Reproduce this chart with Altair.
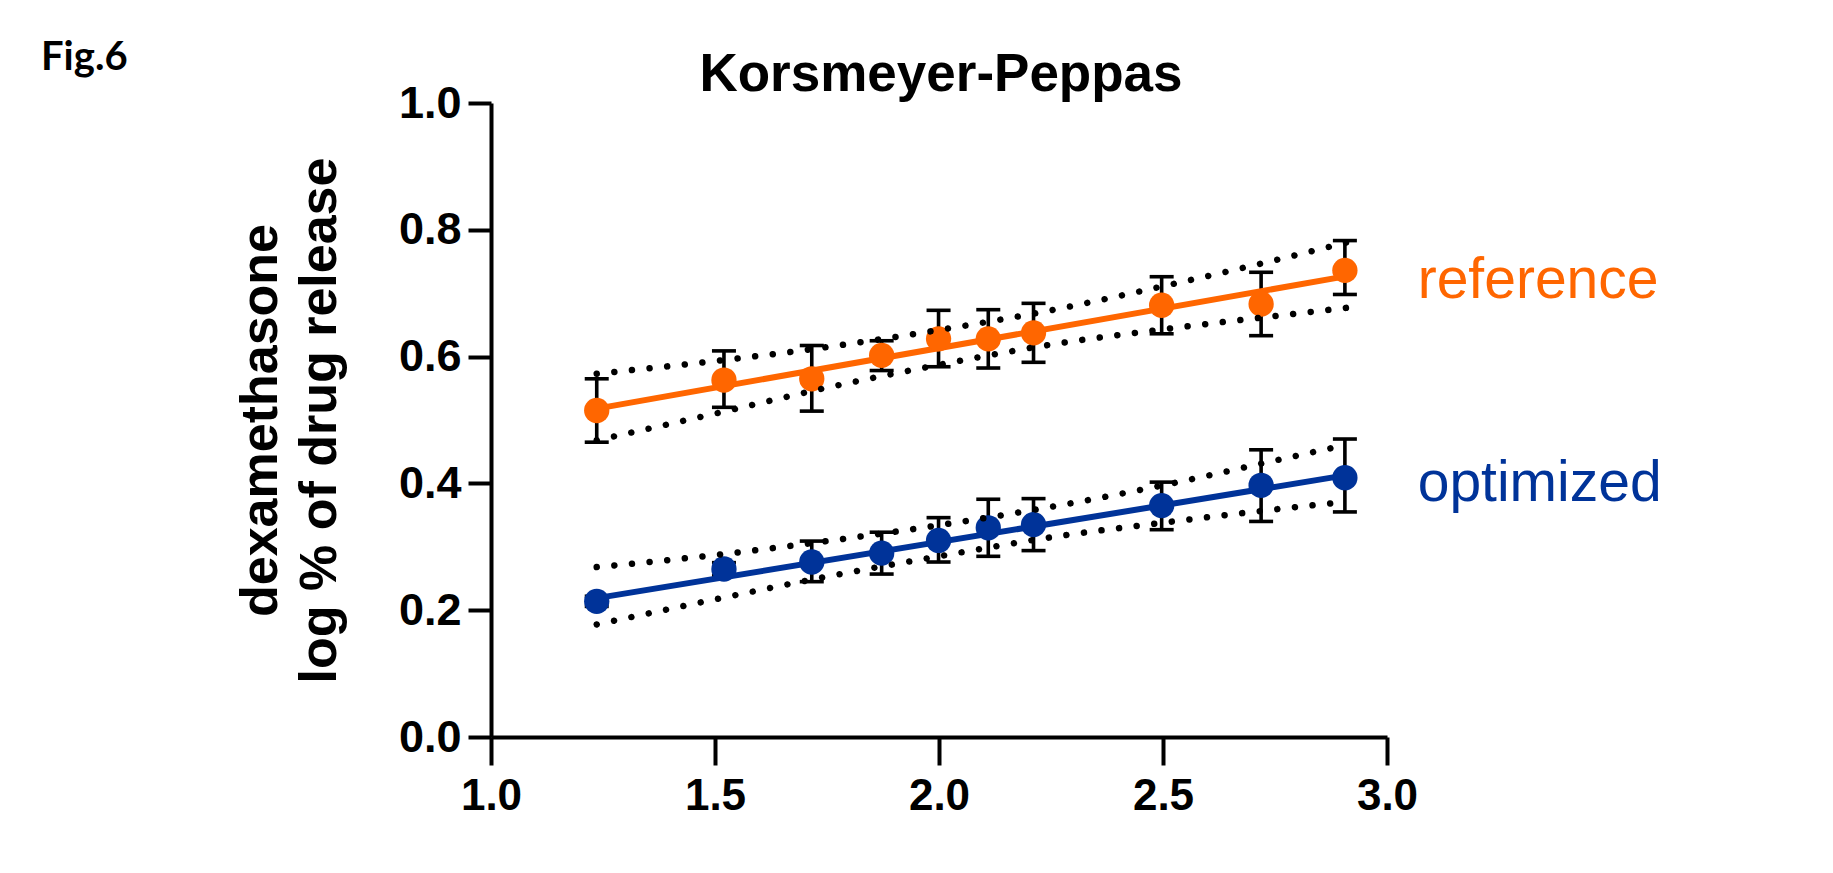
import altair as alt
import pandas as pd

# ---- data ----
series_names = ["reference", "optimized"]
series_colors = ["#FF6600", "#003399"]

x_vals = [1.236, 1.520, 1.716, 1.872, 1.999, 2.110, 2.211, 2.497, 2.719, 2.906]

ref_y  = [0.515, 0.563, 0.565, 0.602, 0.628, 0.628, 0.6375, 0.681, 0.683, 0.736]
ref_hi = [0.565, 0.609, 0.6175, 0.625, 0.673, 0.674, 0.684, 0.726, 0.733, 0.783]
ref_lo = [0.465, 0.520, 0.514, 0.578, 0.584, 0.582, 0.591, 0.636, 0.633, 0.698]

opt_y  = [0.214, 0.265, 0.276, 0.290, 0.310, 0.330, 0.335, 0.365, 0.397, 0.409]
opt_hi = [0.222, 0.275, 0.309, 0.323, 0.346, 0.375, 0.376, 0.402, 0.453, 0.470]
opt_lo = [0.206, 0.255, 0.245, 0.257, 0.276, 0.285, 0.294, 0.327, 0.340, 0.355]

fit_x   = [1.236, 2.91]
ref_fit = [0.518, 0.727]
opt_fit = [0.219, 0.413]

band_x    = [1.236, 1.5, 1.75, 2.0, 2.25, 2.5, 2.75, 2.91]
ref_upper = [0.573, 0.593, 0.615, 0.642, 0.673, 0.711, 0.752, 0.780]
ref_lower = [0.468, 0.510, 0.551, 0.587, 0.619, 0.643, 0.664, 0.677]
opt_upper = [0.268, 0.287, 0.309, 0.334, 0.363, 0.397, 0.436, 0.461]
opt_lower = [0.1775, 0.217, 0.253, 0.285, 0.315, 0.338, 0.359, 0.371]

# series label anchors (baseline)
label_x = [2.91, 2.91]
label_y = [0.693, 0.373]

x_ticks = [1.0, 1.5, 2.0, 2.5, 3.0]
y_ticks = [0.0, 0.2, 0.4, 0.6, 0.8, 1.0]
y_title = ["dexamethasone", "log % of drug release"]
chart_title = "Korsmeyer-Peppas"
fig_label = "Fig.6"

# ---- tables ----
pts_rows = []
for name, ys, his, los in [("reference", ref_y, ref_hi, ref_lo), ("optimized", opt_y, opt_hi, opt_lo)]:
    for xv, yv, hv, lv in zip(x_vals, ys, his, los):
        pts_rows.append({"x": xv, "y": yv, "hi": hv, "lo": lv, "series": name})
pts = pd.DataFrame(pts_rows)

fit_rows = []
for name, ys in [("reference", ref_fit), ("optimized", opt_fit)]:
    for xv, yv in zip(fit_x, ys):
        fit_rows.append({"x": xv, "y": yv, "series": name})
fit = pd.DataFrame(fit_rows)

band_rows = []
for bname, ys in [("ref_upper", ref_upper), ("ref_lower", ref_lower),
                  ("opt_upper", opt_upper), ("opt_lower", opt_lower)]:
    for xv, yv in zip(band_x, ys):
        band_rows.append({"x": xv, "y": yv, "band": bname})
band = pd.DataFrame(band_rows)

labels = pd.DataFrame({"series": series_names, "x": label_x, "y": label_y})

# ---- styles ----
W, H = 896, 634
SANS = "Liberation Sans, Arial, sans-serif"

xscale = alt.Scale(domain=[1, 3], nice=False, zero=False)
yscale = alt.Scale(domain=[0, 1], nice=False, zero=False)
cscale = alt.Scale(domain=series_names, range=series_colors)

x_axis = alt.Axis(values=x_ticks, format=".1f", title=None, grid=False,
                  tickSize=28, tickWidth=4, tickColor="black",
                  domainWidth=4, domainColor="black",
                  labelFont=SANS, labelFontSize=44, labelFontWeight="bold",
                  labelColor="black", labelPadding=9, labelFlush=False, labelOverlap=False)
y_axis = alt.Axis(values=y_ticks, format=".1f", title=y_title, grid=False,
                  tickSize=23, tickWidth=4, tickColor="black",
                  domainWidth=4, domainColor="black",
                  labelFont=SANS, labelFontSize=45, labelFontWeight="bold",
                  labelColor="black", labelPadding=7, labelOverlap=False,
                  titleFont=SANS, titleFontSize=52, titleFontWeight="bold",
                  titleColor="black", titleAngle=270, titleX=-231, titleY=H / 2,
                  titleAlign="center", titleBaseline="middle", titleLineHeight=59)

X = alt.X("x:Q", scale=xscale, axis=x_axis)
Y = alt.Y("y:Q", scale=yscale, axis=y_axis)
C = alt.Color("series:N", scale=cscale, legend=None)

err_rule = alt.Chart(pts).mark_rule(color="black", strokeWidth=3.6).encode(
    x=X, y=alt.Y("lo:Q", scale=yscale, axis=y_axis), y2="hi:Q")
cap_hi = alt.Chart(pts).mark_tick(color="black", orient="horizontal", size=24, thickness=3.6, opacity=1).encode(
    x=X, y=alt.Y("hi:Q", scale=yscale, axis=y_axis))
cap_lo = alt.Chart(pts).mark_tick(color="black", orient="horizontal", size=24, thickness=3.6, opacity=1).encode(
    x=X, y=alt.Y("lo:Q", scale=yscale, axis=y_axis))

fit_line = alt.Chart(fit).mark_line(strokeWidth=6).encode(x=X, y=Y, color=C, detail="series:N")
points = alt.Chart(pts).mark_circle(size=640, opacity=1).encode(x=X, y=Y, color=C)
bands = alt.Chart(band).mark_line(color="black", strokeWidth=6.5, strokeCap="round",
                                  strokeDash=[0.01, 17.7], interpolate="monotone").encode(
    x=X, y=Y, detail="band:N")
series_text = alt.Chart(labels).mark_text(align="left", baseline="alphabetic", dx=71,
                                          font=SANS, fontSize=57).encode(
    x=X, y=Y, text="series:N", color=C)

title_text = alt.Chart(pd.DataFrame({"t": [chart_title]})).mark_text(
    align="center", baseline="alphabetic", font=SANS, fontSize=53, fontWeight="bold", color="black"
).encode(text="t:N", x=alt.value(W / 2 + 2), y=alt.value(-12))
fig_text = alt.Chart(pd.DataFrame({"t": [fig_label]})).mark_text(
    align="left", baseline="alphabetic", font="Lato, Open Sans, sans-serif", fontSize=40,
    fontWeight="bold", color="black"
).encode(text="t:N", x=alt.value(-450), y=alt.value(-33))

chart = alt.layer(err_rule, cap_hi, cap_lo, fit_line, points, bands, series_text,
                  title_text, fig_text).properties(
    width=W, height=H,
    autosize=alt.AutoSizeParams(type="none"),
    padding={"left": 483, "top": 95, "right": 438, "bottom": 128},
    background="white",
).configure_view(stroke=None)

chart.save("out.html", embed_options={"renderer": "svg", "actions": False})
